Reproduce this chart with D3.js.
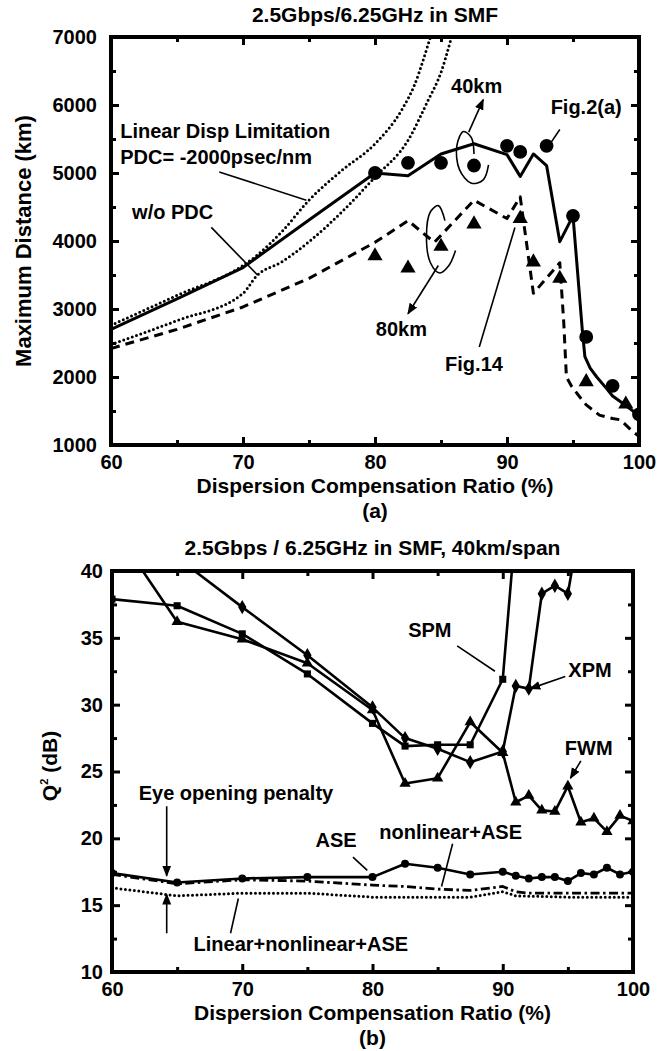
<!DOCTYPE html>
<html>
<head>
<meta charset="utf-8">
<script src="https://cdn.jsdelivr.net/npm/d3@7"></script>
<style>
  body { margin: 0; background: #fff; }
  text { font-family: "Liberation Sans", Arial, sans-serif; font-weight: bold; fill: #000; }
</style>
</head>
<body>
<svg id="chart" width="668" height="1051"></svg>
<script>
// ---------- panel (a) data ----------
const xTicks = [60, 70, 80, 90, 100];
const yTicksA = [1000, 2000, 3000, 4000, 5000, 6000, 7000];
const yTicksB = [10, 15, 20, 25, 30, 35, 40];

// w/o PDC, 40 km span (solid)
const solidX = [60, 65, 70, 70.5, 75, 80, 82.5, 85, 87.5, 90, 91, 92, 93, 94, 95, 95.7, 95.9, 96.3, 96.8, 97.5, 98, 99, 99.6, 100];
const solidY = [2700, 3150, 3610, 3680, 4310, 5000, 4960, 5280, 5430, 5270, 4950, 5280, 5110, 3990, 4370, 2700, 2300, 2130, 2000, 1840, 1720, 1580, 1490, 1400];
// w/o PDC, 80 km span (dashed)
const dashX = [60, 65, 70, 75, 80, 82.5, 84.5, 87.5, 90, 91, 92, 94, 94.3, 94.5, 94.9, 95.5, 96, 97, 98, 98.6, 99.5, 100];
const dashY = [2420, 2700, 3030, 3450, 3980, 4300, 3980, 4600, 4330, 4650, 3230, 3680, 2800, 2000, 1860, 1710, 1590, 1440, 1390, 1370, 1200, 1130];
// linear dispersion limitation (dotted)
const dotUpX = [60, 65, 70, 71, 73, 75, 77.5, 80, 82, 83, 84.2, 85];
const dotUpY = [2760, 3200, 3640, 3780, 4150, 4600, 5040, 5430, 5920, 6300, 7000, 7500];
const dotLoX = [60, 65, 70, 71, 73, 75, 77.5, 80, 82.5, 84, 85, 85.8, 86.5];
const dotLoY = [2480, 2830, 3230, 3480, 3700, 3990, 4430, 4940, 5480, 6060, 6480, 7000, 7500];
// measured points (Fig.2(a), Fig.14)
const circX = [80, 82.5, 85, 87.5, 90, 91, 93, 95, 96, 98, 100];
const circY = [5000, 5150, 5150, 5110, 5400, 5310, 5400, 4370, 2590, 1870, 1450];
const triX = [80, 82.5, 85, 87.5, 91, 92, 94, 96, 99];
const triY = [3780, 3600, 3920, 4250, 4330, 3690, 3450, 1930, 1600];

// ---------- panel (b) data ----------
const spmX = [60, 65, 70, 75, 80, 82.5, 85, 87.5, 90, 91];
const spmY = [37.9, 37.4, 35.3, 32.3, 28.6, 26.9, 27.0, 27.0, 31.9, 43.5];
const xpmX = [60, 65, 70, 75, 80, 82.5, 85, 87.5, 90, 91, 92, 93, 94, 95, 96];
const xpmY = [44.5, 41.0, 37.3, 33.7, 29.8, 27.5, 26.7, 25.7, 26.5, 31.4, 31.2, 38.3, 38.9, 38.3, 44];
const fwmX = [60, 65, 70, 75, 80, 82.5, 85, 87.5, 90, 91, 92, 93, 94, 95, 96, 97, 98, 99, 100];
const fwmY = [43.4, 36.2, 34.9, 33.1, 29.6, 24.1, 24.5, 28.7, 26.4, 22.7, 23.2, 22.1, 22.0, 23.9, 21.2, 21.5, 20.5, 21.7, 21.3];
const aseX = [60, 65, 70, 75, 80, 82.5, 85, 87.5, 90, 91, 92, 93, 94, 95, 96, 97, 98, 99, 100];
const aseY = [17.4, 16.7, 17.0, 17.1, 17.1, 18.1, 17.8, 17.3, 17.5, 17.2, 17.0, 17.1, 17.1, 16.8, 17.4, 17.3, 17.8, 17.3, 17.5];
const nlX = [60, 65, 70, 75, 80, 82.5, 85, 87.5, 90, 91, 92, 95, 100];
const nlY = [17.3, 16.6, 16.9, 16.8, 16.5, 16.4, 16.2, 16.1, 16.4, 16.0, 15.9, 15.9, 15.9];
const linX = [60, 65, 70, 75, 80, 85, 87.5, 90, 91, 95, 100];
const linY = [16.3, 15.7, 15.9, 15.9, 15.6, 15.6, 15.6, 16.0, 15.7, 15.6, 15.6];

const zip = (xs, ys) => xs.map((x, i) => [x, ys[i]]);

const svg = d3.select("#chart");
const defs = svg.append("defs");
defs.append("marker")
    .attr("id", "arrow")
    .attr("viewBox", "0 0 10 10")
    .attr("refX", 9).attr("refY", 5)
    .attr("markerWidth", 7).attr("markerHeight", 7)
    .attr("orient", "auto-start-reverse")
  .append("path")
    .attr("d", "M0,1 L10,5 L0,9 Z")
    .attr("fill", "#000");

// draws frame, ticks and labels, returns scales + plot group
function makePanel(box, yDomain, yTicks, yMinor, opts) {
  const x = d3.scaleLinear().domain([60, 100]).range([box.left, box.right]);
  const y = d3.scaleLinear().domain(yDomain).range([box.bottom, box.top]);
  const g = svg.append("g");

  const clipId = "clip" + opts.id;
  defs.append("clipPath").attr("id", clipId)
    .append("rect")
      .attr("x", box.left).attr("y", box.top)
      .attr("width", box.right - box.left).attr("height", box.bottom - box.top);

  const xMinor = [65, 75, 85, 95];
  const fmt = d3.format("d");
  const axes = [
    [d3.axisBottom(x).tickValues(xTicks).tickSize(-8).tickPadding(10).tickFormat(fmt), `translate(0,${box.bottom})`],
    [d3.axisBottom(x).tickValues(xMinor).tickSize(-5).tickFormat(""), `translate(0,${box.bottom})`],
    [d3.axisTop(x).tickValues(xTicks).tickSize(-8).tickFormat(""), `translate(0,${box.top})`],
    [d3.axisTop(x).tickValues(xMinor).tickSize(-5).tickFormat(""), `translate(0,${box.top})`],
    [d3.axisLeft(y).tickValues(yTicks).tickSize(-8).tickPadding(opts.yPad).tickFormat(fmt), `translate(${box.left},0)`],
    [d3.axisLeft(y).tickValues(yMinor).tickSize(-5).tickFormat(""), `translate(${box.left},0)`],
    [d3.axisRight(y).tickValues(yTicks).tickSize(-8).tickFormat(""), `translate(${box.right},0)`],
    [d3.axisRight(y).tickValues(yMinor).tickSize(-5).tickFormat(""), `translate(${box.right},0)`]
  ];
  axes.forEach(([ax, tr]) => {
    const a = g.append("g").attr("transform", tr).call(ax);
    a.select(".domain").remove();
    a.selectAll("line").attr("stroke", "#000").attr("stroke-width", 3);
    a.selectAll("text").attr("font-size", 20).attr("font-family", null);
  });

  g.append("rect")
    .attr("x", box.left).attr("y", box.top)
    .attr("width", box.right - box.left).attr("height", box.bottom - box.top)
    .attr("fill", "none").attr("stroke", "#000").attr("stroke-width", 4);

  const cx = (box.left + box.right) / 2;
  svg.append("text").attr("x", cx).attr("y", opts.titleY)
    .attr("text-anchor", "middle").attr("font-size", 21).text(opts.title);
  svg.append("text").attr("x", cx).attr("y", box.bottom + 48)
    .attr("text-anchor", "middle").attr("font-size", 21).text("Dispersion Compensation Ratio (%)");
  svg.append("text").attr("x", cx).attr("y", box.bottom + 73)
    .attr("text-anchor", "middle").attr("font-size", 21).text(opts.sub);

  const plot = svg.append("g").attr("clip-path", `url(#${clipId})`);
  return {x, y, plot, g};
}

function drawLine(p, xs, ys, width, dash, round) {
  const line = d3.line().x(d => p.x(d[0])).y(d => p.y(d[1])).curve(d3.curveLinear);
  p.plot.append("path")
    .datum(zip(xs, ys))
    .attr("d", line)
    .attr("fill", "none")
    .attr("stroke", "#000")
    .attr("stroke-width", width)
    .attr("stroke-dasharray", dash)
    .attr("stroke-linecap", round ? "round" : "butt")
    .attr("stroke-linejoin", "round");
}

function drawCurve(p, xs, ys, width, dash) {
  const line = d3.line().x(d => p.x(d[0])).y(d => p.y(d[1])).curve(d3.curveMonotoneX);
  p.plot.append("path")
    .datum(zip(xs, ys))
    .attr("d", line)
    .attr("fill", "none")
    .attr("stroke", "#000")
    .attr("stroke-width", width)
    .attr("stroke-dasharray", dash)
    .attr("stroke-linecap", "round");
}

function drawMarks(p, xs, ys, type, size) {
  p.plot.append("g").selectAll("path")
    .data(zip(xs, ys))
    .join("path")
      .attr("transform", d => `translate(${p.x(d[0])},${p.y(d[1])})`)
      .attr("d", d3.symbol().type(type).size(size))
      .attr("fill", "#000");
}

function label(p, xv, yv, txt, anchor, size) {
  svg.append("text")
    .attr("x", p.x(xv)).attr("y", p.y(yv))
    .attr("dy", "0.36em")
    .attr("text-anchor", anchor || "middle")
    .attr("font-size", size || 20)
    .text(txt);
}

function pointer(p, x1, y1, x2, y2, arrow) {
  svg.append("line")
    .attr("x1", p.x(x1)).attr("y1", p.y(y1))
    .attr("x2", p.x(x2)).attr("y2", p.y(y2))
    .attr("stroke", "#000").attr("stroke-width", 1.6)
    .attr("marker-end", arrow ? "url(#arrow)" : null);
}

function loop(p, pts) {
  svg.append("path")
    .datum(pts)
    .attr("d", d3.line().x(d => p.x(d[0])).y(d => p.y(d[1])).curve(d3.curveCatmullRom))
    .attr("fill", "none").attr("stroke", "#000").attr("stroke-width", 1.6);
}

// ================= panel (a) =================
const pa = makePanel({left: 111, right: 639, top: 37, bottom: 445}, [1000, 7000], yTicksA,
  [1500, 2500, 3500, 4500, 5500, 6500],
  {id: "a", yPad: 14, titleY: 22, title: "2.5Gbps/6.25GHz in SMF", sub: "(a)"});

svg.append("text")
  .attr("transform", `translate(31,${(37 + 445) / 2}) rotate(-90)`)
  .attr("text-anchor", "middle").attr("font-size", 22)
  .text("Maximum Distance (km)");

drawCurve(pa, dotUpX, dotUpY, 3, "0 4.5");
drawCurve(pa, dotLoX, dotLoY, 3, "0 4.5");
drawLine(pa, dashX, dashY, 3, "9 6");
drawLine(pa, solidX, solidY, 3);
drawMarks(pa, circX, circY, d3.symbolCircle, 150);
drawMarks(pa, triX, triY, d3.symbolTriangle, 100);

label(pa, 60.7, 5620, "Linear Disp Limitation", "start");
label(pa, 60.7, 5235, "PDC= -2000psec/nm", "start");
pointer(pa, 68.2, 5015, 74.8, 4600);
label(pa, 61.6, 4430, "w/o PDC", "start");
pointer(pa, 67.6, 4200, 71.1, 3500);
label(pa, 87.7, 6280, "40km");
pointer(pa, 87.1, 5600, 88.2, 6080, true);
loop(pa, [[88.6, 5120], [88.2, 4900], [87.3, 4850], [86.4, 5050], [86.2, 5400], [86.7, 5610], [87.3, 5520], [87.5, 5280]]);
label(pa, 96, 5975, "Fig.2(a)");
pointer(pa, 94, 5640, 93.3, 5440);
loop(pa, [[86.1, 3860], [85.6, 3640], [84.9, 3530], [84.2, 3680], [83.9, 4080], [84.2, 4430], [84.8, 4520], [85.3, 4300]]);
label(pa, 82, 2710, "80km");
pointer(pa, 84.8, 3640, 82.5, 2930, true);
label(pa, 87.5, 2195, "Fig.14");
pointer(pa, 87.9, 2440, 90.6, 4200);

// ================= panel (b) =================
const pb = makePanel({left: 112, right: 633, top: 571, bottom: 972}, [10, 40], yTicksB,
  [12.5, 17.5, 22.5, 27.5, 32.5, 37.5],
  {id: "b", yPad: 9, titleY: 555, title: "2.5Gbps / 6.25GHz in SMF, 40km/span", sub: "(b)"});

const qLab = svg.append("text")
  .attr("transform", `translate(57,766) rotate(-90)`)
  .attr("text-anchor", "middle").attr("font-size", 21);
qLab.append("tspan").text("Q");
qLab.append("tspan").attr("font-size", 11).attr("dy", -9).text("2");
qLab.append("tspan").attr("dy", 9).text(" (dB)");

drawLine(pb, linX, linY, 3, "0 4.5", true);
drawLine(pb, nlX, nlY, 2.8, "9 3.5 2.5 3.5");
drawLine(pb, aseX, aseY, 2.6);
drawLine(pb, spmX, spmY, 2.6);
drawLine(pb, xpmX, xpmY, 2.6);
drawLine(pb, fwmX, fwmY, 2.6);
drawMarks(pb, aseX, aseY, d3.symbolCircle, 50);
drawMarks(pb, spmX, spmY, d3.symbolSquare, 50);
drawMarks(pb, xpmX, xpmY, d3.symbolDiamond, 60);
drawMarks(pb, fwmX, fwmY, d3.symbolTriangle, 55);

label(pb, 84.4, 35.6, "SPM");
pointer(pb, 86.5, 34.4, 89.4, 32.5);
label(pb, 96.7, 32.6, "XPM");
pointer(pb, 94.8, 32.1, 92.1, 31.2, true);
label(pb, 96.6, 26.75, "FWM");
pointer(pb, 96.0, 25.8, 95.2, 24.5, true);
label(pb, 62.05, 23.4, "Eye opening penalty", "start");
pointer(pb, 64.2, 22.4, 64.2, 17.2, true);
pointer(pb, 64.2, 12.9, 64.2, 15.8, true);
label(pb, 77.2, 19.9, "ASE");
pointer(pb, 78.5, 18.6, 79.6, 17.6);
label(pb, 86.0, 20.5, "nonlinear+ASE");
pointer(pb, 86.15, 19.6, 85.3, 16.4);
label(pb, 74.5, 12.1, "Linear+nonlinear+ASE");
pointer(pb, 69.1, 12.9, 69.7, 15.5);
</script>
</body>
</html>
